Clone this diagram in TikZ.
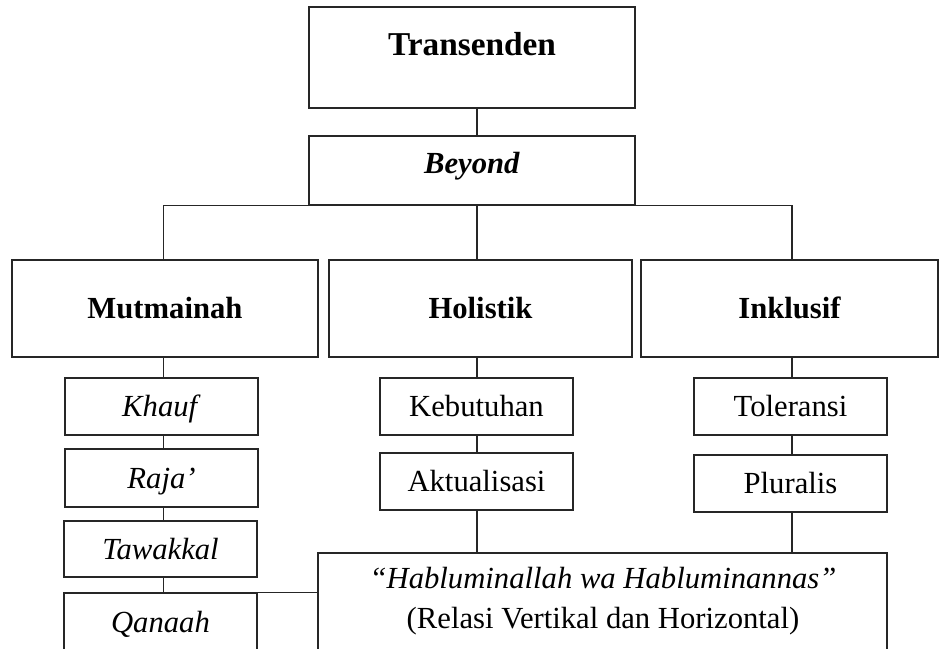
\documentclass[tikz,border=0pt]{standalone}
\usepackage{fontspec}
\setmainfont{Liberation Serif}
\def\pxu{0.75pt}
\tikzset{
  bx/.style={draw=black!85, line width=1.1pt, rectangle, inner sep=0pt,
    text height=15.2pt, text depth=0pt, font=\fontsize{23}{27}\selectfont},
  ln/.style={draw=black!85, line width=1.1pt},
  txt/.style={inner sep=0pt, anchor=base, font=\fontsize{23}{27}\selectfont},
}
\begin{document}
\begin{tikzpicture}[x=0.75pt,y=-0.75pt]
\useasboundingbox (0,0) rectangle (939,649);
\clip (0,0) rectangle (939,649);
\coordinate (cM) at (163.5,0);
\coordinate (cH) at (477,0);
\coordinate (cI) at (792,0);
% top
\node[bx, minimum width=326*\pxu, minimum height=101*\pxu, text height=16.5pt, text depth=18.75pt,
  font=\fontsize{25}{30}\selectfont\bfseries] (trans) at (472,57.5) {Transenden};
\node[bx, minimum width=326*\pxu, minimum height=69*\pxu, text depth=11.25pt] (beyond) at (472,170.5) {\textbf{\textit{Beyond}}};
% second row
\node[bx, minimum width=306*\pxu, minimum height=97*\pxu, font=\fontsize{23}{27}\selectfont\bfseries] (mut) at (165,308.5) {Mutmainah};
\node[bx, minimum width=303*\pxu, minimum height=97*\pxu, font=\fontsize{23}{27}\selectfont\bfseries] (hol) at (480.5,308.5) {Holistik};
\node[bx, minimum width=297*\pxu, minimum height=97*\pxu, font=\fontsize{23}{27}\selectfont\bfseries] (inc) at (789.5,308.5) {Inklusif};
% left column
\node[bx, minimum width=193*\pxu, minimum height=57*\pxu] (khauf) at (161.5,406.5) {\textit{Khauf}};
\node[bx, minimum width=193*\pxu, minimum height=58*\pxu] (raja) at (161.5,478) {\textit{Raja'}};
\node[bx, minimum width=193*\pxu, minimum height=56*\pxu] (taw) at (160.5,549) {\textit{Tawakkal}};
\node[bx, minimum width=193*\pxu, minimum height=58*\pxu] (qan) at (160.5,622) {\textit{Qanaah}};
% middle column
\node[bx, minimum width=193*\pxu, minimum height=57*\pxu] (keb) at (476.5,406.5) {Kebutuhan};
\node[bx, minimum width=193*\pxu, minimum height=57*\pxu] (akt) at (476.5,481.5) {Aktualisasi};
% right column
\node[bx, minimum width=193*\pxu, minimum height=57*\pxu] (tol) at (790.5,406.5) {Toleransi};
\node[bx, minimum width=193*\pxu, minimum height=57*\pxu] (plu) at (790.5,483.5) {Pluralis};
% big box
\node[bx, minimum width=569*\pxu, minimum height=147*\pxu] (big) at (602.5,626.5) {};
\node[txt] (bigA) at (603,588) {\textit{“Habluminallah wa Habluminannas”}};
\node[txt] (bigB) at (603,628) {(Relasi Vertikal dan Horizontal)};
% connectors
\draw[ln] (trans.south -| cH) -- (beyond.north -| cH);
\draw[ln] (mut.north -| cM) -- (beyond.south -| cM) -- (beyond.south -| cI) -- (inc.north -| cI);
\draw[ln] (beyond.south -| cH) -- (hol.north -| cH);
\draw[ln] (mut.south -| cM) -- (khauf.north -| cM);
\draw[ln] (khauf.south -| cM) -- (raja.north -| cM);
\draw[ln] (raja.south -| cM) -- (taw.north -| cM);
\draw[ln] (taw.south -| cM) -- (qan.north -| cM);
\draw[ln] (hol.south -| cH) -- (keb.north -| cH);
\draw[ln] (keb.south -| cH) -- (akt.north -| cH);
\draw[ln] (akt.south -| cH) -- (big.north -| cH);
\draw[ln] (inc.south -| cI) -- (tol.north -| cI);
\draw[ln] (tol.south -| cI) -- (plu.north -| cI);
\draw[ln] (plu.south -| cI) -- (big.north -| cI);
\draw[ln] (qan.north east) -- (qan.north east -| big.west);
\end{tikzpicture}
\end{document}
